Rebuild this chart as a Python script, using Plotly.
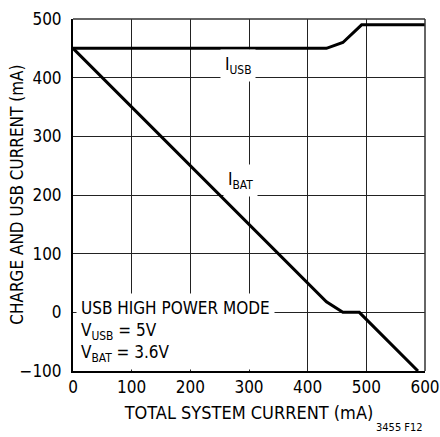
import plotly.graph_objects as go

# Total system current (mA) and the resulting USB input / battery charge currents
usb_x = [0, 432, 460, 492, 600]
usb_y = [450, 450, 460, 490, 490]
bat_x = [0, 432, 460, 488, 588]
bat_y = [450, 18, 0, 0, -100]

x_ticks = [0, 100, 200, 300, 400, 500, 600]
y_ticks = [-100, 0, 100, 200, 300, 400, 500]

FONT = "DejaVu Sans Condensed, Liberation Sans, Arial, sans-serif"
FS = 17

fig = go.Figure()
fig.add_trace(go.Scatter(x=usb_x, y=usb_y, mode="lines",
                         line=dict(color="black", width=3), hoverinfo="skip"))
fig.add_trace(go.Scatter(x=bat_x, y=bat_y, mode="lines",
                         line=dict(color="black", width=3), hoverinfo="skip"))

axis_common = dict(showgrid=True, gridcolor="#222222", gridwidth=1,
                   zeroline=False, showline=True, linecolor="black", linewidth=2,
                   automargin=False,
                   tickfont=dict(family=FONT, size=FS, color="black"))

fig.update_layout(
    width=440, height=437,
    margin=dict(l=73, r=15, t=19, b=66),
    paper_bgcolor="white", plot_bgcolor="white",
    showlegend=False,
    font=dict(family=FONT, size=FS, color="black"),
    xaxis=dict(range=[0, 600], tickvals=x_ticks, ticks="",
               title=dict(text="TOTAL SYSTEM CURRENT (mA)", standoff=10,
                          font=dict(family=FONT, size=18)),
               **axis_common),
    # invisible outside ticks keep the labels clear of the axis
    yaxis=dict(range=[-100, 500], tickvals=y_ticks, ticks="outside", ticklen=6,
               tickcolor="rgba(0,0,0,0)",
               **axis_common),
)

fig.add_annotation(xref="paper", yref="paper", x=-0.16, y=0.5,
                   text="CHARGE AND USB CURRENT (mA)", textangle=-90,
                   showarrow=False, xanchor="center", yanchor="middle",
                   font=dict(size=17))

# Top and right edges of the frame
fig.add_shape(type="line", xref="paper", yref="paper", x0=0, x1=1, y0=1, y1=1,
              line=dict(color="#333333", width=1.5), layer="above")
fig.add_shape(type="line", xref="paper", yref="paper", x0=1, x1=1, y0=0, y1=1,
              line=dict(color="#333333", width=1.5), layer="above")

# Curve labels on white boxes that break the grid
fig.add_annotation(x=281, y=421, text="I<sub>USB</sub>", showarrow=False,
                   xanchor="center", yanchor="middle", bgcolor="white",
                   borderpad=4, font=dict(size=FS))
fig.add_annotation(x=285, y=225, text="I<sub>BAT</sub>", showarrow=False,
                   xanchor="center", yanchor="middle", bgcolor="white",
                   borderpad=4, font=dict(size=FS))
fig.add_annotation(x=5, y=-99, text="USB HIGH POWER MODE<br>V<sub>USB</sub> = 5V<br>V<sub>BAT</sub> = 3.6V",
                   showarrow=False, xanchor="left", yanchor="bottom", align="left",
                   bgcolor="white", borderpad=4, font=dict(size=FS))
fig.add_annotation(xref="paper", yref="paper", x=1, y=-0.185, text="3455 F12",
                   showarrow=False, xanchor="right", yanchor="bottom",
                   font=dict(size=11))

fig.write_html("out.html")
